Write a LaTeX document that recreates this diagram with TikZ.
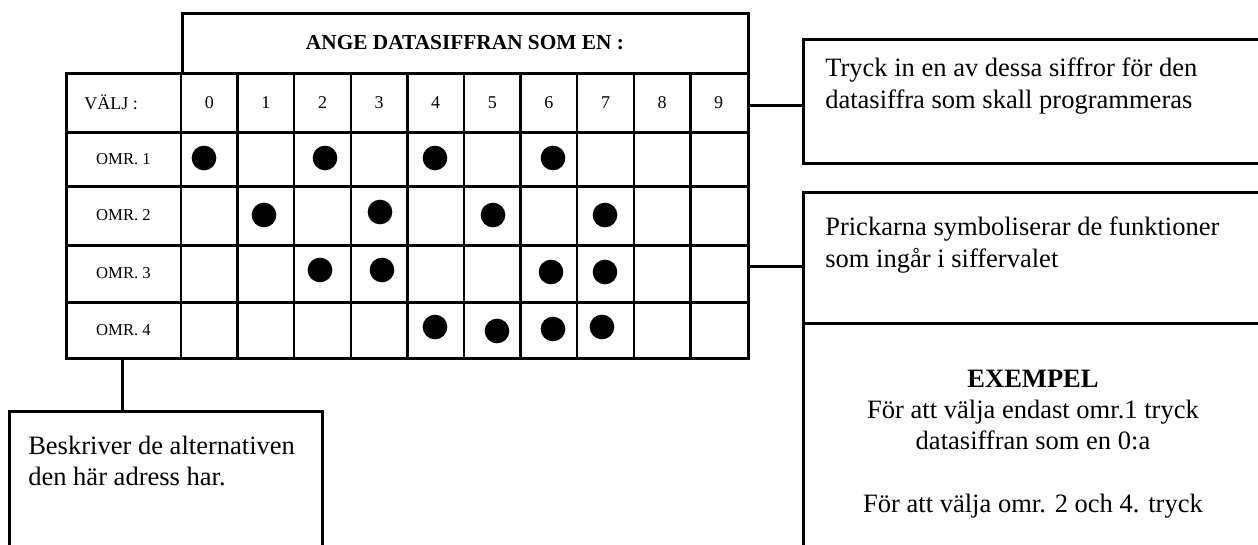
\documentclass[tikz,border=0pt]{standalone}
\usepackage{fontspec}
\setmainfont{Liberation Serif}
\usetikzlibrary{positioning}
\tikzstyle{ruta} = [rectangle, draw=black, line width=2.25pt, inner sep=0pt]
\tikzstyle{linje} = [line width=2.25pt]
\tikzstyle{tunn} = [line width=1.9pt]
\tikzstyle{brodtext} = [align=left, inner sep=0pt, anchor=north west, font=\fontsize{19.9}{23.3}\selectfont]
\tikzstyle{siffra} = [inner sep=0pt, font=\fontsize{13.5}{16}\selectfont]
\tikzstyle{omr} = [inner sep=0pt, font=\fontsize{12.5}{15}\selectfont]
\tikzstyle{prick} = [circle, fill=black, inner sep=0pt, minimum size=18.5pt]

\begin{document}
\begin{tikzpicture}[x=0.75pt, y=-0.75pt]
\clip (0,0) rectangle (1258,544);

% rubrik och tabell
\node (rubrik) [ruta, minimum width=424.5pt, minimum height=45pt, font=\bfseries\fontsize{16}{19}\selectfont] at (465,43) {ANGE DATASIFFRAN SOM EN :};
\node (tabell) [ruta, minimum width=511.5pt, minimum height=213.75pt] at (407,215.5) {};

% rutnät
\foreach \k in {0,...,9}
  \draw [tunn] ({181+56.6*\k},73) -- ({181+56.6*\k},358);
\foreach \y in {132,186,245,302}
  \draw [linje] (66,\y) -- (748,\y);

% första raden
\node (valj) [siffra, anchor=west] at (84,102.5) {VÄLJ :};
\foreach \d in {0,...,9}
  \node (s\d) [siffra] at ({181+56.6*(\d+0.5)},102.5) {\d};

% områden
\foreach \r/\y in {1/159, 2/215.5, 3/273.5, 4/330}
  \node (omr\r) [omr] at (123.5,\y) {OMR. \r};

% prickar
\foreach \n/\x/\y in {10/204/158, 12/325/158, 14/435/158, 16/553/158,
                      21/264/215, 23/380/212, 25/493/215, 27/605/215,
                      32/320/270, 33/382/270, 36/551/272, 37/605/272,
                      44/435/327, 45/497/331, 46/553/329, 47/602/327}
  \node (p\n) [prick] at (\x,\y) {};

% förklaringsrutor
\node (tryck) [ruta, minimum width=354pt, minimum height=93pt] at (1039,101) {};
\node (prickar) [ruta, minimum width=354pt, minimum height=98.25pt] at (1039,257.5) {};
\node (exempel) [ruta, minimum width=354pt, minimum height=177.75pt] at (1039,441.5) {};
\node (beskriv) [ruta, minimum width=234.75pt, minimum height=111.75pt] at (165.5,485.5) {};

\node (trycktext) [brodtext] at (825,58) {Tryck in en av dessa siffror för den\\datasiffra som skall programmeras};
\node (prickartext) [brodtext] at (825,217) {Prickarna symboliserar de funktioner\\som ingår i siffervalet};
\node (beskrivtext) [brodtext] at (28,436) {Beskriver de alternativen\\den här adress har.};
\node (exempeltext) [brodtext, align=center, anchor=north] at (1033,370) {\textbf{EXEMPEL}\\För att välja endast omr.1 tryck\\datasiffran som en 0:a\\[24pt]För att välja omr. 2 och 4. tryck};

% förbindelser
\coordinate (k1) at (803,105);
\coordinate (k2) at (803,266);
\coordinate (k3) at (122,411);
\draw [linje] (k1) -- (k1 -| tabell.east);
\draw [linje] (k2) -- (k2 -| tabell.east);
\draw [linje] (k3) -- (k3 |- tabell.south);
\end{tikzpicture}
\end{document}
